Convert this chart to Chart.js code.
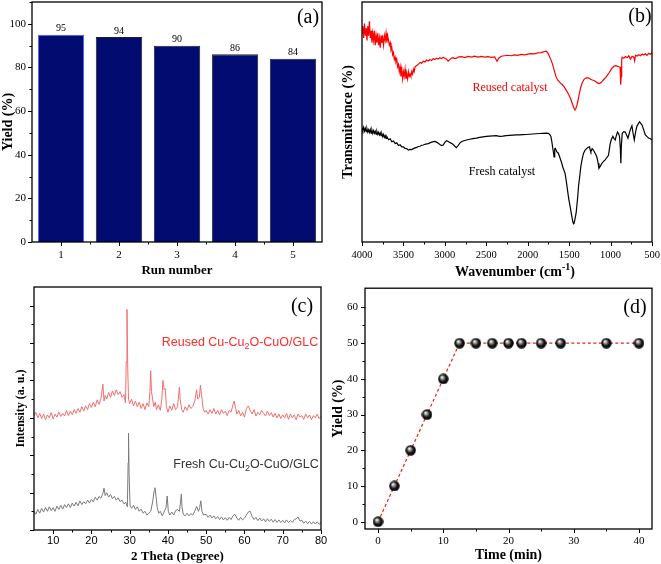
<!DOCTYPE html>
<html>
<head>
<meta charset="utf-8">
<script src="https://cdn.jsdelivr.net/npm/chart.js@4.4.1/dist/chart.umd.min.js"></script>
<style>
  html,body{margin:0;padding:0;background:#fff;}
  #wrap{position:relative;width:661px;height:564px;overflow:hidden;}
  canvas{position:absolute;}
</style>
</head>
<body>
<div id="wrap">
  <canvas id="ca" width="330" height="282" style="left:0;top:0"></canvas>
  <canvas id="cb" width="331" height="282" style="left:330px;top:0"></canvas>
  <canvas id="cc" width="330" height="282" style="left:0;top:282px"></canvas>
  <canvas id="cd" width="331" height="282" style="left:330px;top:282px"></canvas>
</div>
<script>
// ---------- DATA ----------
// (a) recycling
const RUNS = ['1', '2', '3', '4', '5'];
const RUN_YIELD = [95, 94, 90, 86, 84];
const A_Y_TICKS = [0, 20, 40, 60, 80, 100];

// (b) FT-IR (wavenumber, transmittance in arbitrary %)
const IR_REUSED = [[4000,87],[3990,90],[3980,85],[3970,91],[3960,86],[3950,89],[3940,84],[3930,90],[3920,86],[3910,92],[3900,85],[3890,88],[3880,83],[3870,87],[3860,84],[3850,88],[3840,82],[3830,86],[3820,83],[3810,87],[3800,82],[3790,85],[3780,81],[3770,86],[3760,83],[3750,85],[3740,82],[3730,86],[3720,84],[3710,87],[3700,83],[3690,86],[3680,84],[3670,82],[3660,83],[3650,80],[3640,81],[3630,78],[3620,79],[3610,76],[3600,77],[3590,75],[3580,76],[3570,73],[3560,74],[3550,71],[3540,73],[3530,69],[3520,72],[3510,68],[3500,71],[3490,69],[3480,72],[3470,68],[3460,70],[3450,68],[3440,71],[3430,69],[3420,70],[3410,69],[3400,71],[3390,70],[3380,72],[3370,71],[3360,73],[3340,73.5],[3320,74],[3300,74.8],[3280,74.5],[3260,75.3],[3240,75],[3220,75.8],[3200,75.4],[3180,76],[3160,75.6],[3140,76.4],[3120,76],[3100,76.6],[3080,76.2],[3060,76.8],[3040,76.4],[3020,77],[3000,76.6],[2980,76.2],[2960,75.4],[2940,76],[2920,76.6],[2900,76.8],[2880,76.4],[2860,76.6],[2840,77],[2800,77.2],[2760,76.8],[2720,77.3],[2680,77],[2640,77.4],[2600,77],[2560,77.3],[2520,77],[2480,77.2],[2440,76.9],[2400,77.1],[2370,75.3],[2350,76.6],[2320,77.4],[2280,77.6],[2240,77.8],[2200,77.6],[2160,78],[2120,77.8],[2080,78.2],[2040,78],[2000,78.3],[1960,78.5],[1920,78.4],[1880,78.8],[1840,78.9],[1800,79.3],[1780,79.5],[1760,79],[1740,77.5],[1720,76],[1700,74],[1680,71.5],[1660,69],[1640,67.5],[1620,66.8],[1600,66],[1580,65.5],[1560,64.6],[1540,63.5],[1520,62.4],[1500,61],[1480,59.5],[1460,57.5],[1445,56],[1430,55],[1420,55.5],[1405,57],[1390,59.5],[1375,62],[1360,64.5],[1340,66.5],[1320,67.8],[1300,68.3],[1280,68.5],[1260,68.2],[1240,67.8],[1220,67.5],[1200,67.3],[1180,66.9],[1160,66.3],[1140,66],[1120,66.3],[1100,67],[1080,67.8],[1060,68.5],[1040,69.4],[1020,70.4],[1000,71.5],[980,72.5],[960,73.2],[940,73.5],[920,73.3],[900,73],[885,72.8],[880,68],[876,65.5],[872,69],[866,76],[860,77],[840,76.6],[820,77.3],[800,76.8],[780,77.6],[760,76.2],[740,77.4],[720,77],[710,75.5],[700,77.8],[680,77.5],[660,78],[640,77.6],[620,78.3],[600,77.9],[580,78.4],[560,77.8],[540,78.6],[520,78.2],[500,79]];
const IR_FRESH = [[4000,47.6],[3990,46.5],[3980,47.8],[3970,46.2],[3960,47.4],[3950,46],[3940,47.2],[3930,45.8],[3920,46.8],[3910,45.6],[3900,46.9],[3890,45.4],[3880,46.6],[3870,45.2],[3860,46.4],[3850,45.3],[3840,46.1],[3830,44.9],[3820,46],[3810,44.8],[3800,45.7],[3790,44.6],[3780,45.5],[3770,44.3],[3760,45.1],[3750,43.9],[3740,44.8],[3730,43.6],[3720,44.3],[3710,43.2],[3700,43.9],[3680,42.6],[3660,43],[3640,41.8],[3620,42.1],[3600,41],[3580,41.3],[3560,40.2],[3540,40.5],[3520,39.6],[3500,39.6],[3480,39],[3460,38.9],[3440,38.3],[3420,38.6],[3400,38.5],[3380,38.9],[3360,39.2],[3340,39.4],[3320,39.8],[3300,39.9],[3280,40.3],[3260,40.4],[3240,40.7],[3220,40.9],[3200,41],[3180,41.3],[3160,41.6],[3140,41.8],[3120,41.9],[3100,41.6],[3080,41.2],[3060,40.6],[3040,40.2],[3020,40.4],[3000,41.5],[2980,42.2],[2960,41.9],[2940,41.5],[2920,41.1],[2900,40.6],[2880,39.9],[2860,39.3],[2840,40.2],[2820,41.2],[2800,41.8],[2780,42.1],[2760,42.3],[2740,42.5],[2700,42.8],[2660,43.1],[2620,43.3],[2580,43.6],[2540,43.8],[2500,44],[2460,44.1],[2420,44.2],[2380,44.3],[2340,44],[2300,44.1],[2260,44.3],[2220,44.4],[2180,44.5],[2140,44.6],[2100,44.6],[2060,44.7],[2020,44.8],[1980,44.9],[1940,45],[1900,45.1],[1860,45.2],[1820,45.3],[1780,45.4],[1750,45.3],[1735,44.8],[1720,44],[1710,42],[1700,39.7],[1690,37.5],[1682,35.5],[1674,38.8],[1666,39],[1650,37.6],[1630,37],[1610,35],[1589,32.8],[1570,30.5],[1549,28.6],[1535,25.5],[1520,21.7],[1505,18],[1488,14.7],[1470,11.2],[1456,8.5],[1448,7.6],[1440,7.8],[1428,9.8],[1416,12],[1400,17.5],[1387,23],[1372,27.5],[1359,31.4],[1343,34.5],[1327,36.9],[1307,38.3],[1287,39],[1270,39.5],[1254,39.7],[1246,38.4],[1238,37.6],[1222,38.9],[1206,38.2],[1186,37],[1166,35.5],[1150,32.8],[1140,30.7],[1125,31.5],[1105,32.8],[1085,33.6],[1065,34.2],[1045,35.2],[1025,36.1],[1015,38.5],[1004,41.1],[990,42.8],[972,44],[958,43.1],[944,42.5],[930,44.4],[916,45.8],[904,45.2],[892,44],[882,39],[876,32.8],[870,40],[859,45.3],[840,46],[823,45.8],[805,44.5],[790,43.3],[775,45.2],[760,47],[742,48.4],[728,45.2],[714,42.5],[700,45.5],[682,48.3],[666,49.2],[650,50.1],[636,49.4],[621,48.8],[600,46.7],[581,44.6],[562,44],[541,43.3],[520,43],[500,42.5]];
const IR_TICKS = [4000, 3500, 3000, 2500, 2000, 1500, 1000, 500];

// (c) XRD (2theta, intensity a.u.)
const XRD_REUSED = [[5,3.05],[5.5,3.15],[6,3.0],[6.5,3.12],[7,2.98],[7.5,3.1],[8,2.95],[8.5,3.08],[9,3.0],[9.5,3.14],[10,2.97],[10.5,3.1],[11,3.02],[11.5,3.16],[12,3.04],[12.5,3.12],[13,3.05],[13.5,3.2],[14,3.06],[14.5,3.18],[15,3.08],[15.5,3.22],[16,3.12],[16.5,3.25],[17,3.15],[17.5,3.3],[18,3.18],[18.5,3.32],[19,3.22],[19.5,3.38],[20,3.28],[20.5,3.42],[21,3.3],[21.5,3.48],[22,3.36],[22.5,3.52],[23,3.9],[23.3,3.45],[23.6,3.6],[24,3.5],[24.5,3.68],[25,3.55],[25.5,3.72],[26,3.6],[26.5,3.75],[27,3.62],[27.5,3.7],[28,3.55],[28.5,3.62],[28.9,3.4],[29.1,4.5],[29.3,5.9],[29.5,4.3],[29.7,3.5],[30,3.38],[30.5,3.5],[31,3.32],[31.5,3.45],[32,3.3],[32.5,3.42],[33,3.25],[33.5,3.38],[34,3.22],[34.5,3.4],[35,3.3],[35.3,3.7],[35.5,4.26],[35.7,3.7],[36,3.5],[36.3,3.3],[36.7,3.42],[37,3.22],[37.5,3.35],[38,3.2],[38.4,3.5],[38.7,4.0],[39,3.75],[39.3,3.78],[39.6,3.3],[40,3.15],[40.5,3.32],[41,3.2],[41.5,3.38],[42,3.22],[42.5,3.3],[42.8,3.6],[43,3.82],[43.2,3.5],[43.6,3.22],[44,3.15],[44.5,3.3],[45,3.2],[45.5,3.35],[46,3.25],[46.5,3.3],[47,3.45],[47.5,3.75],[47.8,3.5],[48.2,3.55],[48.5,3.87],[48.8,3.6],[49.2,3.25],[49.6,3.15],[50,3.2],[50.5,3.1],[51,3.22],[51.5,3.12],[52,3.25],[52.5,3.1],[53,3.2],[53.5,3.08],[54,3.22],[54.5,3.12],[55,3.18],[55.5,3.06],[56,3.2],[56.5,3.15],[57,3.35],[57.3,3.45],[57.7,3.25],[58,3.1],[58.5,3.2],[59,3.05],[59.5,3.15],[60,3.02],[60.5,3.25],[61,3.32],[61.5,3.2],[62,3.1],[62.5,3.22],[63,3.05],[63.5,3.15],[64,3.08],[64.5,3.2],[65,3.12],[65.5,3.05],[66,3.18],[66.5,3.06],[67,3.14],[67.5,3.02],[68,3.12],[68.5,3.0],[69,3.1],[69.5,2.98],[70,3.08],[70.5,3.0],[71,3.12],[71.5,2.96],[72,3.1],[72.5,3.0],[73,3.08],[73.5,2.95],[74,3.1],[74.5,3.02],[75,3.06],[75.5,2.96],[76,3.1],[76.5,3.0],[77,3.08],[77.5,2.95],[78,3.06],[78.5,3.0],[79,3.1],[79.5,2.98],[80,3.04]];
const XRD_FRESH = [[5,0.5],[5.5,0.42],[6,0.55],[6.5,0.45],[7,0.58],[7.5,0.48],[8,0.6],[8.5,0.5],[9,0.62],[9.5,0.52],[10,0.6],[10.5,0.5],[11,0.64],[11.5,0.55],[12,0.66],[12.5,0.56],[13,0.68],[13.5,0.6],[14,0.7],[14.5,0.6],[15,0.72],[15.5,0.64],[16,0.74],[16.5,0.65],[17,0.78],[17.5,0.68],[18,0.76],[18.5,0.7],[19,0.8],[19.5,0.72],[20,0.82],[20.5,0.75],[21,0.88],[21.5,0.8],[22,0.9],[22.5,0.85],[23,0.98],[23.3,1.12],[23.6,0.92],[24,1.0],[24.5,0.88],[25,0.95],[25.5,0.84],[26,0.9],[26.5,0.8],[27,0.86],[27.5,0.76],[28,0.8],[28.5,0.7],[29,0.74],[29.4,0.62],[29.6,1.8],[29.7,2.59],[29.85,1.5],[30.1,0.65],[30.5,0.58],[31,0.66],[31.5,0.55],[32,0.62],[32.5,0.5],[33,0.56],[33.5,0.45],[34,0.5],[34.5,0.4],[35,0.45],[35.5,0.5],[36,0.75],[36.4,1.05],[36.6,1.13],[36.9,0.9],[37.2,0.6],[37.6,0.45],[38,0.5],[38.5,0.38],[39,0.48],[39.5,0.6],[39.8,0.91],[40.1,0.5],[40.5,0.4],[41,0.48],[41.5,0.4],[42,0.52],[42.5,0.55],[43,0.5],[43.3,0.75],[43.5,0.96],[43.7,0.6],[44,0.42],[44.5,0.38],[45,0.45],[45.5,0.38],[46,0.44],[46.5,0.4],[47,0.5],[47.5,0.63],[48,0.5],[48.3,0.6],[48.6,0.78],[48.9,0.5],[49.3,0.4],[50,0.42],[50.5,0.34],[51,0.4],[51.5,0.32],[52,0.38],[52.5,0.3],[53,0.36],[53.5,0.28],[54,0.35],[54.5,0.27],[55,0.33],[55.5,0.26],[56,0.34],[56.5,0.28],[57,0.38],[57.5,0.42],[58,0.32],[58.5,0.26],[59,0.34],[59.5,0.27],[60,0.32],[60.5,0.4],[61,0.48],[61.5,0.5],[62,0.36],[62.5,0.28],[63,0.34],[63.5,0.25],[64,0.32],[64.5,0.24],[65,0.3],[65.5,0.22],[66,0.3],[66.5,0.23],[67,0.29],[67.5,0.21],[68,0.28],[68.5,0.2],[69,0.27],[69.5,0.2],[70,0.26],[70.5,0.19],[71,0.27],[71.5,0.2],[72,0.25],[72.5,0.2],[73,0.28],[73.5,0.3],[74,0.35],[74.5,0.24],[75,0.26],[75.5,0.18],[76,0.24],[76.5,0.17],[77,0.23],[77.5,0.16],[78,0.22],[78.5,0.16],[79,0.22],[79.5,0.15],[80,0.2]];
const XRD_TICKS = [10, 20, 30, 40, 50, 60, 70, 80];

// (d) yield vs time
const TIME_MIN = [0, 2.5, 5, 7.5, 10, 12.5, 15, 17.5, 20, 22, 25, 28, 35, 40];
const TIME_YIELD = [0, 10, 20, 30, 40, 50, 50, 50, 50, 50, 50, 50, 50, 50];
const D_X_TICKS = [0, 10, 20, 30, 40];
const D_Y_TICKS = [0, 10, 20, 30, 40, 50, 60];

// ---------- HELPERS ----------
const SERIF = "'Liberation Serif', 'Times New Roman', serif";
const SANS = "'Liberation Sans', Arial, sans-serif";
Chart.defaults.font.family = SERIF;
Chart.defaults.color = '#000';
Chart.defaults.animation = false;

const toXY = arr => arr.map(p => ({x: p[0], y: p[1]}));
const fixTicks = list => (scale) => { scale.ticks = list.map(v => ({value: v})); };
const noPad = s => { s.paddingTop = 0; s.paddingBottom = 0; s.paddingLeft = 0; s.paddingRight = 0; };
const fixW = w => (scale) => { scale.width = w; noPad(scale); };
const fixH = h => (scale) => { scale.height = h; noPad(scale); };
const plain = v => String(v);

function frameTicks(opt) {
  return {
    id: 'frameTicks',
    afterDatasetsDraw(chart) {
      const {ctx, chartArea: a, scales} = chart;
      const x = scales.x, y = scales.y;
      ctx.save();
      ctx.strokeStyle = '#000';
      ctx.lineWidth = 1.3;
      ctx.strokeRect(a.left, a.top, a.right - a.left, a.bottom - a.top);
      ctx.lineWidth = 1;
      ctx.beginPath();
      (opt.xMajor || []).forEach(v => { const p = Math.round(x.getPixelForValue(v)) + 0.5; ctx.moveTo(p, a.bottom); ctx.lineTo(p, a.bottom + 4); });
      (opt.xMinor || []).forEach(v => { const p = Math.round(x.getPixelForValue(v)) + 0.5; ctx.moveTo(p, a.bottom); ctx.lineTo(p, a.bottom + 2.5); });
      (opt.yMajor || []).forEach(v => { const p = Math.round(y.getPixelForValue(v)) + 0.5; ctx.moveTo(a.left, p); ctx.lineTo(a.left - 4, p); });
      (opt.yMinor || []).forEach(v => { const p = Math.round(y.getPixelForValue(v)) + 0.5; ctx.moveTo(a.left, p); ctx.lineTo(a.left - 2.5, p); });
      ctx.stroke();
      ctx.restore();
    },
    afterDraw(chart) {
      const ctx = chart.ctx;
      ctx.save();
      (opt.texts || []).forEach(t => {
        ctx.fillStyle = t.color || '#000';
        ctx.textBaseline = 'middle';
        if (t.rich) {
          const big = t.size, small = Math.round(t.size * 0.7);
          const fontOf = (k) => (t.weight || '') + ' ' + (k === 'n' ? big : small) + 'px ' + t.family;
          let total = 0;
          t.rich.forEach(([s, k]) => { ctx.font = fontOf(k); total += ctx.measureText(s).width; });
          let cx = t.x - total / 2;
          ctx.textAlign = 'left';
          t.rich.forEach(([s, k]) => {
            ctx.font = fontOf(k);
            const dy = k === 'sub' ? big * 0.3 : (k === 'sup' ? -big * 0.35 : 0);
            ctx.fillText(s, cx, t.y + dy);
            cx += ctx.measureText(s).width;
          });
        } else {
          ctx.font = (t.weight || '') + ' ' + t.size + 'px ' + t.family;
          ctx.textAlign = 'center';
          ctx.fillText(t.text, t.x, t.y);
        }
      });
      ctx.restore();
    }
  };
}

const range = (a, b, s) => { const r = []; for (let v = a; v <= b + 1e-9; v += s) r.push(+v.toFixed(4)); return r; };
const noGrid = {display: false, drawTicks: false};
const noBorder = {display: false};

// ---------- (a) ----------
const barLabels = {
  id: 'barLabels',
  afterDatasetsDraw(chart) {
    const ctx = chart.ctx;
    const meta = chart.getDatasetMeta(0);
    ctx.save();
    ctx.font = '10px ' + SERIF;
    ctx.fillStyle = '#000';
    ctx.textAlign = 'center';
    ctx.textBaseline = 'bottom';
    meta.data.forEach((el, i) => ctx.fillText(String(RUN_YIELD[i]), el.x, el.y - 1));
    ctx.restore();
  }
};
new Chart(document.getElementById('ca'), {
  type: 'bar',
  data: {labels: RUNS, datasets: [{
    data: RUN_YIELD,
    backgroundColor: '#020c70',
    borderColor: ['#4a63ff', '#222', '#222', '#222', '#222'],
    borderWidth: 1,
    categoryPercentage: 0.8, barPercentage: 1
  }]},
  options: {
    responsive: false,
    layout: {padding: {left: 0, right: 8, top: 2, bottom: 0}},
    plugins: {legend: {display: false}, tooltip: {enabled: false}},
    scales: {
      x: {grid: noGrid, border: noBorder, afterFit: fixH(40),
          ticks: {padding: 7, font: {size: 11}, maxRotation: 0, autoSkip: false},
          title: {display: true, text: 'Run number', font: {size: 13, weight: 'bold'}, padding: {top: 0, bottom: 4}}},
      y: {min: 0, max: 110, grid: noGrid, border: noBorder, afterFit: fixW(32), afterBuildTicks: fixTicks(A_Y_TICKS),
          ticks: {padding: 6, font: {size: 11}, callback: plain},
          title: {display: true, text: 'Yield (%)', font: {size: 14, weight: 'bold'}, padding: {top: 0, bottom: 0}}}
    }
  },
  plugins: [barLabels, frameTicks({
    xMajor: [0, 1, 2, 3, 4], xMinor: [0.5, 1.5, 2.5, 3.5],
    yMajor: A_Y_TICKS, yMinor: range(10, 110, 20),
    texts: [{text: '(a)', x: 308, y: 18, size: 20, family: SERIF}]
  })]
});

// ---------- (b) ----------
new Chart(document.getElementById('cb'), {
  type: 'line',
  data: {datasets: [
    {data: toXY(IR_REUSED), borderColor: '#ff0000', borderWidth: 1.2, pointRadius: 0, tension: 0},
    {data: toXY(IR_FRESH), borderColor: '#000000', borderWidth: 1.2, pointRadius: 0, tension: 0}
  ]},
  options: {
    responsive: false,
    layout: {padding: {left: 0, right: 9, top: 2, bottom: 0}},
    plugins: {legend: {display: false}, tooltip: {enabled: false}},
    scales: {
      x: {type: 'linear', reverse: true, min: 500, max: 4000, grid: noGrid, border: noBorder,
          afterFit: fixH(40), afterBuildTicks: fixTicks(IR_TICKS),
          ticks: {padding: 7, font: {size: 10.5}, maxRotation: 0, autoSkip: false, callback: plain}},
      y: {min: 0, max: 100, grid: noGrid, border: noBorder, afterFit: fixW(32),
          ticks: {display: false},
          title: {display: true, text: 'Transmittance (%)', font: {size: 14, weight: 'bold'}, padding: {top: 10, bottom: 0}}}
    }
  },
  plugins: [frameTicks({
    xMajor: IR_TICKS, xMinor: range(750, 3750, 500),
    texts: [
      {text: '(b)', x: 310, y: 17, size: 20, family: SERIF},
      {text: 'Reused catalyst', x: 180, y: 88, size: 12, family: SERIF, color: '#ff0000'},
      {text: 'Fresh catalyst', x: 172, y: 172, size: 12, family: SERIF, color: '#000'},
      {rich: [['Wavenumber (cm', 'n'], ['-1', 'sup'], [')', 'n']], x: 185, y: 272, size: 14, weight: 'bold', family: SERIF}
    ]
  })]
});

// ---------- (c) ----------
new Chart(document.getElementById('cc'), {
  type: 'line',
  data: {datasets: [
    {data: toXY(XRD_REUSED), borderColor: '#f26f6f', borderWidth: 1, pointRadius: 0, tension: 0},
    {data: toXY(XRD_FRESH), borderColor: '#7a7a7a', borderWidth: 1, pointRadius: 0, tension: 0}
  ]},
  options: {
    responsive: false,
    layout: {padding: {left: 0, right: 9, top: 5, bottom: 0}},
    plugins: {legend: {display: false}, tooltip: {enabled: false}},
    scales: {
      x: {type: 'linear', min: 5, max: 80, grid: noGrid, border: noBorder,
          afterFit: fixH(34), afterBuildTicks: fixTicks(XRD_TICKS),
          ticks: {padding: 4, font: {size: 11, family: SANS}, maxRotation: 0, autoSkip: false, callback: plain},
          title: {display: true, text: '2 Theta (Degree)', font: {size: 13, weight: 'bold'}, padding: {top: 0, bottom: 0}}},
      y: {min: 0, max: 6.5, grid: noGrid, border: noBorder, afterFit: fixW(34),
          ticks: {display: false},
          title: {display: true, text: 'Intensity (a. u.)', font: {size: 12, weight: 'bold'}, padding: {top: 14, bottom: 0}}}
    }
  },
  plugins: [frameTicks({
    xMajor: XRD_TICKS, xMinor: range(15, 75, 10),
    yMajor: [0, 1, 2, 3, 4, 5, 6], yMinor: [0.5, 1.5, 2.5, 3.5, 4.5, 5.5],
    texts: [
      {text: '(c)', x: 302, y: 25, size: 20, family: SERIF},
      {rich: [['Reused Cu-Cu', 'n'], ['2', 'sub'], ['O-CuO/GLC', 'n']], x: 240, y: 61, size: 12.5, family: SANS, color: '#ff2a2a'},
      {rich: [['Fresh Cu-Cu', 'n'], ['2', 'sub'], ['O-CuO/GLC', 'n']], x: 246, y: 183, size: 12.5, family: SANS, color: '#333'}
    ]
  })]
});

// ---------- (d) ----------
function sphere() {
  const c = document.createElement('canvas');
  c.width = 11; c.height = 11;
  const g = c.getContext('2d');
  const grd = g.createRadialGradient(4, 3.6, 0.3, 5.5, 5.5, 5.5);
  grd.addColorStop(0, '#ffffff');
  grd.addColorStop(0.25, '#9a9a9a');
  grd.addColorStop(0.6, '#151515');
  grd.addColorStop(1, '#000000');
  g.fillStyle = grd;
  g.beginPath(); g.arc(5.5, 5.5, 5.2, 0, Math.PI * 2); g.fill();
  return c;
}
new Chart(document.getElementById('cd'), {
  type: 'line',
  data: {datasets: [{
    data: TIME_MIN.map((t, i) => ({x: t, y: TIME_YIELD[i]})),
    borderColor: '#e8201c', borderWidth: 1.2, borderDash: [3, 2.5], tension: 0,
    pointStyle: sphere(), pointRadius: 5
  }]},
  options: {
    responsive: false,
    layout: {padding: {left: 0, right: 9, top: 5, bottom: 0}},
    plugins: {legend: {display: false}, tooltip: {enabled: false}},
    scales: {
      x: {type: 'linear', min: -2, max: 42, grid: noGrid, border: noBorder,
          afterFit: fixH(35), afterBuildTicks: fixTicks(D_X_TICKS),
          ticks: {padding: 6, font: {size: 11}, maxRotation: 0, autoSkip: false, callback: plain},
          title: {display: true, text: 'Time (min)', font: {size: 14, weight: 'bold'}, padding: {top: 0, bottom: 0}}},
      y: {min: -2.05, max: 65.4, grid: noGrid, border: noBorder, afterFit: fixW(35), afterBuildTicks: fixTicks(D_Y_TICKS),
          ticks: {padding: 7, font: {size: 11}, callback: plain},
          title: {display: true, text: 'Yield (%)', font: {size: 14, weight: 'bold'}, padding: {top: 0, bottom: 0}}}
    }
  },
  plugins: [frameTicks({
    xMajor: D_X_TICKS, xMinor: [5, 15, 25, 35],
    yMajor: D_Y_TICKS, yMinor: [5, 15, 25, 35, 45, 55],
    texts: [{text: '(d)', x: 305, y: 26, size: 20, family: SERIF}]
  })]
});
</script>
</body>
</html>
